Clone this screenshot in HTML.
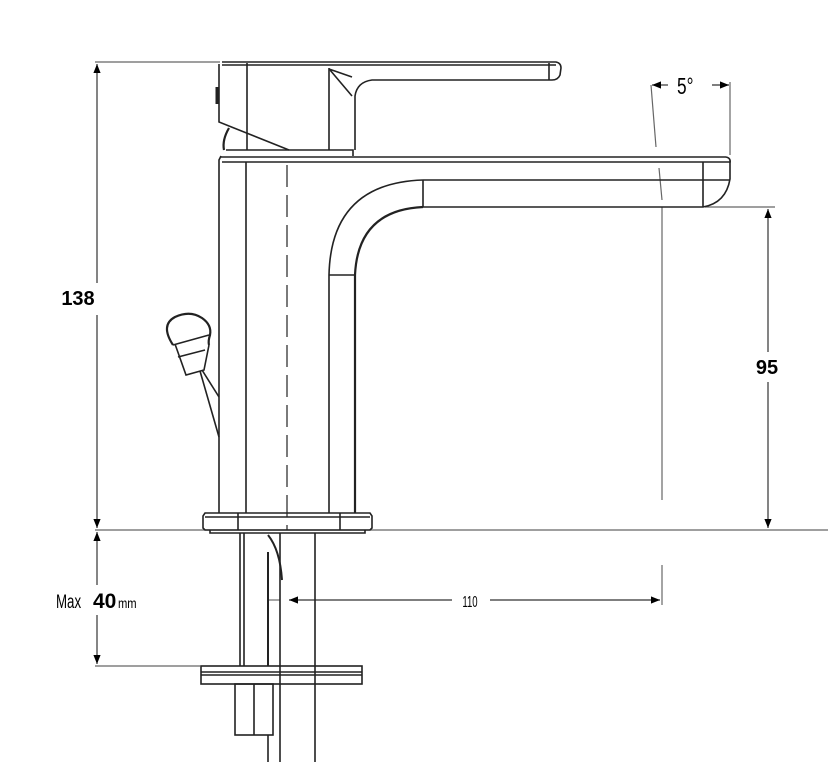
<!DOCTYPE html>
<html><head><meta charset="utf-8"><style>
html,body{margin:0;padding:0;background:#fff;}
svg{display:block;}
text{font-family:"Liberation Sans",sans-serif;}
</style></head><body>
<svg width="828" height="762" viewBox="0 0 828 762" xmlns="http://www.w3.org/2000/svg">
<defs>
<marker id="a" viewBox="0 0 10 10" refX="10" refY="5" markerWidth="16" markerHeight="9" markerUnits="userSpaceOnUse" orient="auto-start-reverse"><path d="M0,1 L10,5 L0,9 z" fill="#000"/></marker>
</defs>
<g fill="none" stroke="#222" stroke-width="1.6">
<g stroke="#666" stroke-width="1.2">
<line x1="95" y1="62" x2="220" y2="62"/>
<line x1="95" y1="530" x2="828" y2="530"/>
<line x1="95" y1="666" x2="200" y2="666"/>
<line x1="705" y1="207" x2="775" y2="207"/>
<line x1="730" y1="82" x2="730" y2="155"/>
<line x1="651" y1="85" x2="656" y2="147"/>
<line x1="659" y1="168" x2="662" y2="200"/>
<line x1="662" y1="207" x2="662" y2="500"/>
<line x1="662" y1="565" x2="662" y2="605"/>
</g>
<g stroke="#333" stroke-width="1.2">
<line x1="97" y1="64" x2="97" y2="283" marker-start="url(#a)"/>
<line x1="97" y1="315" x2="97" y2="528" marker-end="url(#a)"/>
<line x1="97" y1="532" x2="97" y2="585" marker-start="url(#a)"/>
<line x1="97" y1="615" x2="97" y2="664" marker-end="url(#a)"/>
<line x1="768" y1="209" x2="768" y2="352" marker-start="url(#a)"/>
<line x1="768" y1="382" x2="768" y2="528" marker-end="url(#a)"/>
<line x1="289" y1="600" x2="452" y2="600" marker-start="url(#a)"/>
<line x1="490" y1="600" x2="660" y2="600" marker-end="url(#a)"/>
<line x1="652" y1="85" x2="668" y2="85" marker-start="url(#a)"/>
<line x1="712" y1="85" x2="729" y2="85" marker-end="url(#a)"/>
</g>
<path d="M222,62 L556,62 Q561,63 561,68 L560,75 Q558,80 552,80 L372,80 Q357,82 355,96 L355,150"/>
<line x1="222" y1="65" x2="556" y2="65"/>
<line x1="549" y1="63" x2="549" y2="80"/>
<path d="M219,64 L219,122 L289,150"/>
<line x1="247" y1="63" x2="247" y2="150"/>
<line x1="329" y1="68" x2="329" y2="150"/>
<path d="M329,69 L352,77 M330,70 L352,96"/>
<path d="M226,150 L353,150 L353,156" />
<path d="M229,128 Q222,140 224,150" stroke-width="2.2"/>
<path d="M217,87 L217,104" stroke-width="3"/>
<path d="M221,156 L219,160 L219,513"/>
<line x1="221" y1="157" x2="726" y2="157"/>
<line x1="222" y1="162" x2="730" y2="162"/>
<path d="M726,157 Q731,158 730,163 L730,179 Q726,203 703,207 L423,207"/>
<line x1="423" y1="180" x2="730" y2="180"/>
<line x1="703" y1="162" x2="703" y2="207"/>
<line x1="423" y1="180" x2="423" y2="207"/>
<path d="M423,180 Q331,183 329,275 L329,513"/>
<path d="M423,207 Q358,210 355,275 L355,513" stroke-width="2.2"/>
<line x1="329" y1="275" x2="355" y2="275"/>
<line x1="246" y1="162" x2="246" y2="513"/>
<line x1="287" y1="165" x2="287" y2="530" stroke-dasharray="22,8" stroke-width="1.2"/>
<path d="M205,513 L370,513 L372,516 L372,528 L370,530 L205,530 L203,528 L203,516 z"/>
<line x1="205" y1="517" x2="370" y2="517"/>
<line x1="238" y1="513" x2="238" y2="530"/>
<line x1="340" y1="513" x2="340" y2="530"/>
<path d="M210,530 L210,533 L365,533 L365,530"/>
<path d="M173,345 Q160,325 175,317 Q190,310 202,318 Q212,325 210,335 Q208,341 209,345" stroke-width="2.2"/>
<path d="M173,345 L209,335 M175,344 L186,375 L204,370 L209,345"/>
<line x1="178" y1="357" x2="205" y2="350"/>
<line x1="200" y1="371" x2="219" y2="437"/>
<line x1="202" y1="370" x2="219" y2="397"/>
<line x1="240" y1="533" x2="240" y2="666"/>
<line x1="244" y1="533" x2="244" y2="666"/>
<line x1="268" y1="552" x2="268" y2="666" stroke-width="2"/>
<line x1="280" y1="533" x2="280" y2="762"/>
<line x1="315" y1="533" x2="315" y2="762"/>
<path d="M268,535 Q280,550 282,580" stroke-width="2"/>
<line x1="268" y1="600" x2="280" y2="600" stroke-width="0.8"/>
<rect x="201" y="666" width="161" height="18"/>
<line x1="201" y1="672" x2="362" y2="672"/>
<line x1="201" y1="675" x2="362" y2="675"/>
<rect x="235" y="684" width="38" height="51"/>
<line x1="254" y1="684" x2="254" y2="735"/>
<line x1="268" y1="735" x2="268" y2="762"/>
</g>
<g fill="#000">
<text x="78" y="305" font-size="20" font-weight="bold" text-anchor="middle">138</text>
<text x="767" y="374" font-size="20" font-weight="bold" text-anchor="middle">95</text>
<text x="56" y="608" font-size="19" transform="translate(56 0) scale(0.7 1) translate(-56 0)">Max</text>
<text x="93" y="608" font-size="21" font-weight="bold">40</text>
<text x="118" y="608" font-size="14" transform="translate(118 0) scale(0.8 1) translate(-118 0)">mm</text>
<text x="470" y="607" font-size="16" text-anchor="middle" transform="translate(470 0) scale(0.6 1) translate(-470 0)">110</text>
<text x="677" y="94" font-size="23" transform="translate(677 0) scale(0.75 1) translate(-677 0)">5°</text>
</g>
</svg>
</body></html>
